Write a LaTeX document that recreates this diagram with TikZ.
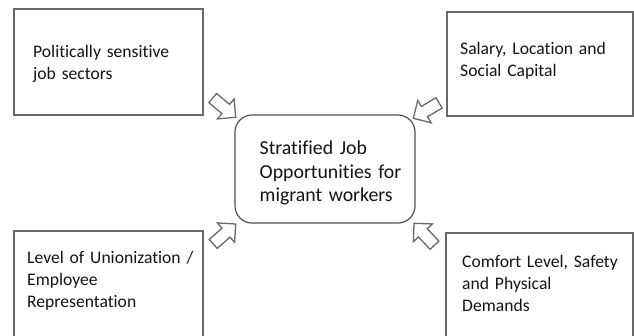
\documentclass[tikz,border=0pt]{standalone}
\usepackage{fontspec}
\setmainfont{Carlito}[Ligatures=NoCommon]
\definecolor{boxline}{RGB}{105,105,105}
\definecolor{cline}{RGB}{80,80,80}
\definecolor{txt}{RGB}{20,20,20}
\newcommand{\blockarr}[3]{%
  \draw[blockarrow, shift={(#2)}, rotate=#3]
    (0,0) -- (-13,13) -- (-13,6) -- (-30,6) -- (-30,-6) -- (-13,-6) -- (-13,-13) -- cycle;
  \coordinate (#1) at (#2);}
\begin{document}
\begin{tikzpicture}[x=1pt,y=-1pt,
  sidebox/.style={draw=boxline, line width=1.4pt, rectangle, inner sep=0pt},
  midbox/.style={draw=cline, line width=1.2pt, rectangle, rounded corners=17pt, inner sep=0pt},
  sidetext/.style={anchor=base west, inner sep=0pt, text=txt, text width=200pt, align=left,
     font=\fontsize{17.6}{22}\selectfont},
  midtext/.style={anchor=base west, inner sep=0pt, text=txt, text width=170pt, align=left,
     font=\fontsize{19.8}{23.5}\selectfont},
  blockarrow/.style={draw=boxline, line width=1.3pt, fill=white, line join=miter}]
\useasboundingbox (0,0) rectangle (634,335);
\clip (0,0) rectangle (634,335);
\fill[white] (0,0) rectangle (634,335);
% boxes
\node[sidebox, minimum width=189pt, minimum height=106pt] (tl) at (108.5,62) {};
\node[sidebox, minimum width=186pt, minimum height=104pt] (tr) at (540,64) {};
\node[sidebox, minimum width=189pt, minimum height=109pt] (bl) at (108.5,285.5) {};
\node[sidebox, minimum width=187pt, minimum height=107pt] (br) at (539.5,286.5) {};
\node[midbox, minimum width=180pt, minimum height=108pt] (mid) at (325,169) {};
% texts
\node[sidetext] (tltext) at (33,57) {Politically sensitive\\job sectors};
\node[sidetext] (trtext) at (460,54) {Salary, Location and\\Social Capital};
\node[sidetext] (bltext) at (27,263) {Level of Unionization /\\Employee\\Representation};
\node[sidetext] (brtext) at (462,267) {Comfort Level, Safety\\and Physical\\Demands};
\node[midtext] (midtext) at (259.5,154.5) {Stratified Job\\Opportunities for\\migrant workers};
% block arrows
\blockarr{a1}{235.7,117.3}{-40}
\blockarr{a2}{413.3,118.3}{-149}
\blockarr{a3}{235.7,224}{41.6}
\blockarr{a4}{414,223.3}{133}
\end{tikzpicture}
\end{document}
